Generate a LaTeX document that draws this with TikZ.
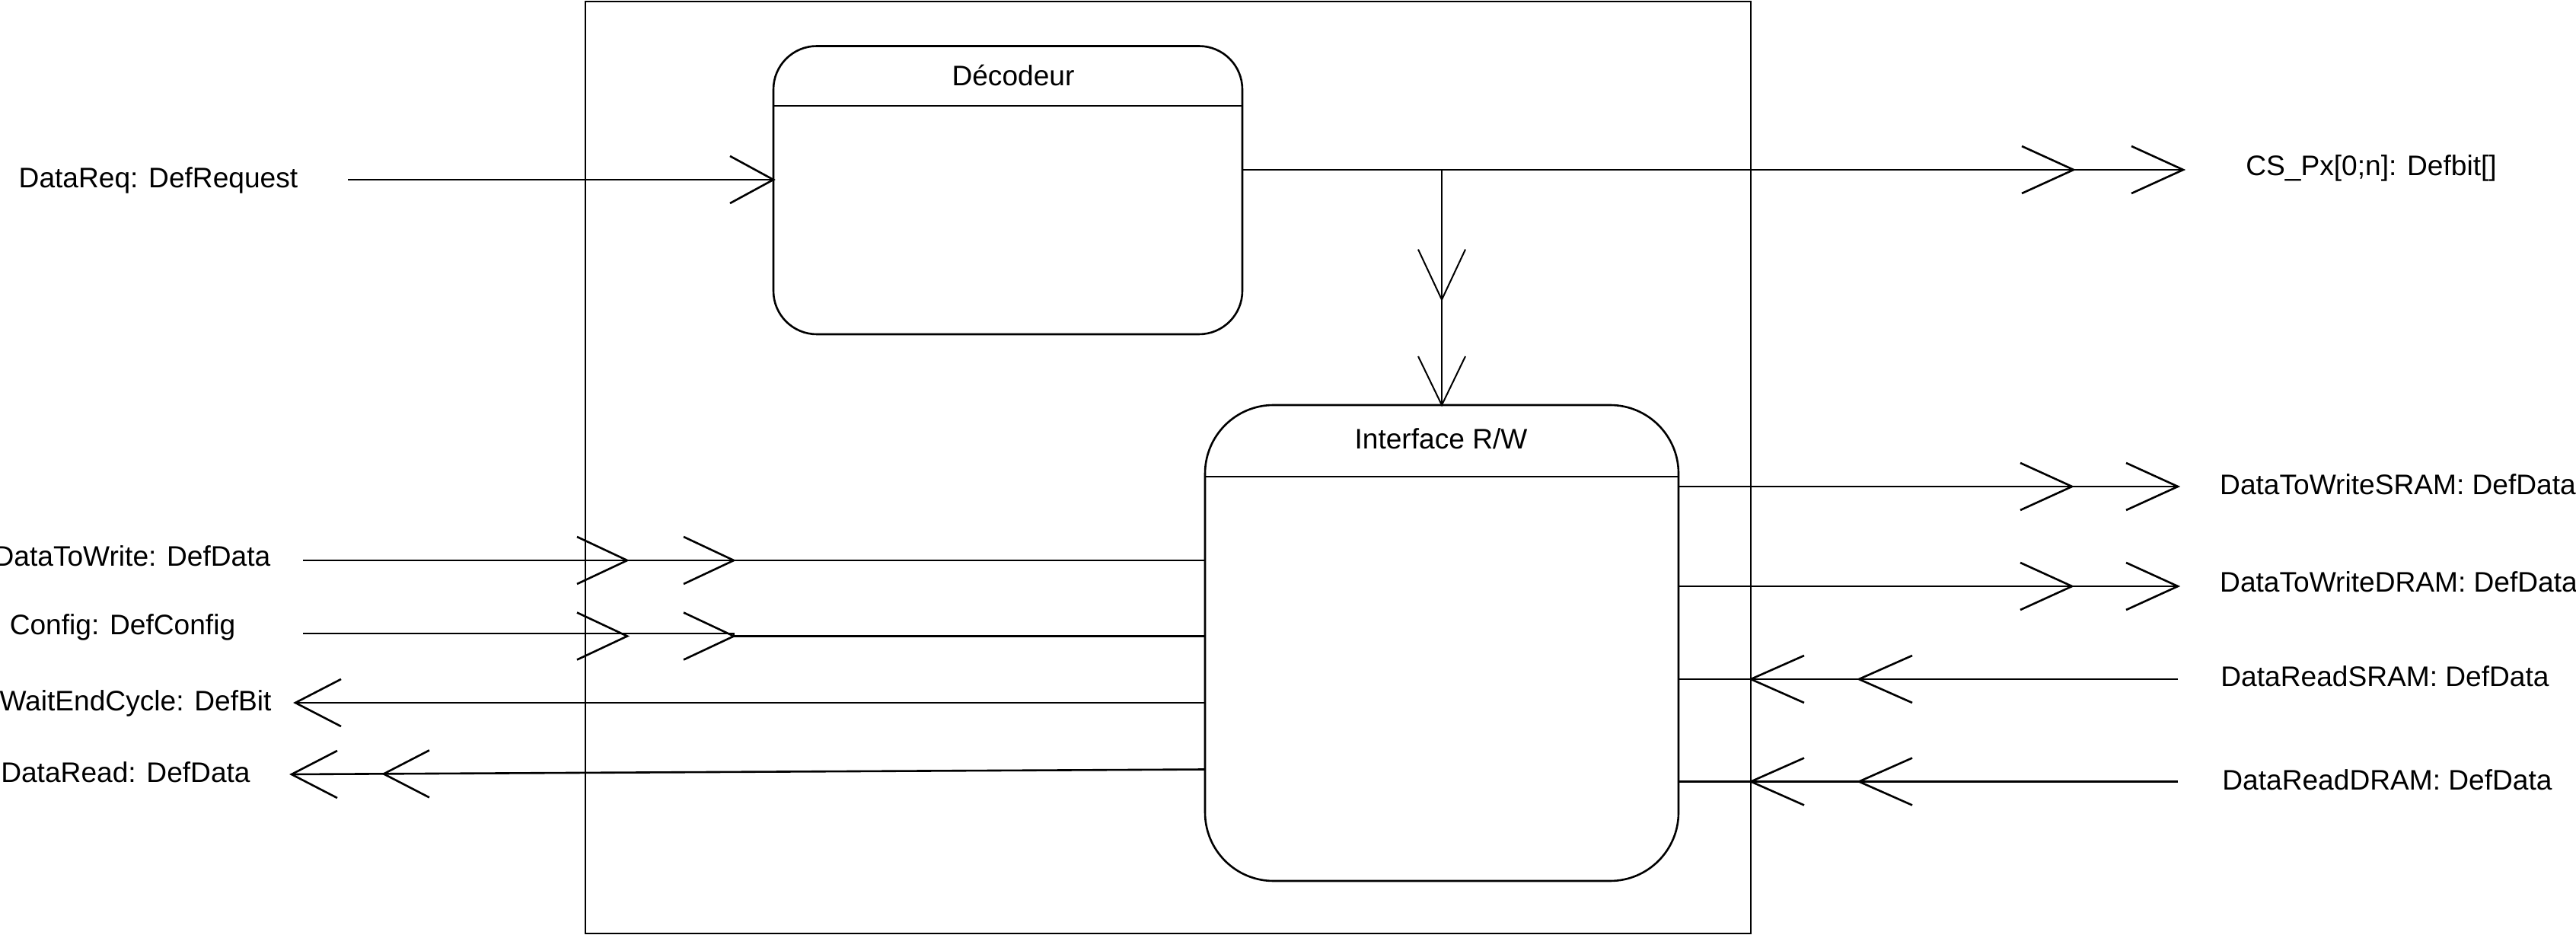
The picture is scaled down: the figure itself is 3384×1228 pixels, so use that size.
\documentclass[tikz,border=0pt]{standalone}
\usepackage{fontspec}
\setmainfont{Liberation Sans}
\usetikzlibrary{calc}
\tikzset{
  ln/.style={line width=0.65pt, black},
  branchln/.style={line width=0.5pt, black},
  blk/.style={draw, line width=0.65pt, rectangle, inner sep=0pt, outer sep=0pt},
  lbl/.style={font=\fontsize{9.28pt}{11pt}\selectfont, inner sep=0pt, anchor=base},
}
% open barbs: [style]{tip}{length}
\newcommand\barbR[3][ln]{\draw[#1] ($(#2)+(-#3,-31)$) -- (#2) -- ($(#2)+(-#3,31)$);}
\newcommand\barbL[3][ln]{\draw[#1] ($(#2)+(#3,-31)$) -- (#2) -- ($(#2)+(#3,31)$);}
\newcommand\barbD[3][ln]{\draw[#1] ($(#2)+(-31,-#3)$) -- (#2) -- ($(#2)+(31,-#3)$);}
\begin{document}
\begin{tikzpicture}[x=0.25pt,y=-0.25pt]
\useasboundingbox (0,0) rectangle (3384,1228);

% outer system box
\node[blk, minimum width=382.75pt, minimum height=306pt] (sys) at (1534.5,614) {};

% Decodeur
\node[blk, rounded corners=14.25pt, minimum width=154pt, minimum height=94.625pt] (dec) at (1324,249.75) {};
\coordinate (dech) at (0,139);
\draw[ln] (dec.west |- dech) -- (dec.east |- dech);
\node[lbl] (dectitle) at (1331,113) {Décodeur};

% Interface R/W
\node[blk, rounded corners=22.5pt, minimum width=155.5pt, minimum height=156.25pt] (ifc) at (1894,844.5) {};
\coordinate (ifch) at (0,626);
\draw[ln] (ifc.west |- ifch) -- (ifc.east |- ifch);
\node[lbl] (ifctitle) at (1893,590) {Interface R/W};

% DataReq input
\coordinate (reqin) at (457,236);
\coordinate (decin) at (reqin -| dec.west);
\draw[ln] (reqin) -- (decin);
\barbR{decin}{57}

% CS output
\coordinate (csend) at (2868,223);
\coordinate (cs1) at (2724,223);
\coordinate (decout) at (dec.east |- csend);
\draw[ln] (decout) -- (csend);
\barbR{cs1}{68}
\barbR{csend}{68}

% branch to Interface
\coordinate (br) at (ifc.north |- csend);
\coordinate (brmid) at ($(ifc.north)+(0,-138.4)$);
\draw[branchln] (br) -- (ifc.north);
\barbD[branchln]{brmid}{66}
\barbD[branchln]{ifc.north}{64}

% DataToWrite input
\coordinate (dtwin) at (398,736);
\coordinate (dtwa) at (824,736);
\coordinate (dtwb) at (964,736);
\draw[ln] (dtwin) -- (dtwin -| ifc.west);
\barbR{dtwa}{66}
\barbR{dtwb}{66}

% Config input
\coordinate (cfgin) at (398,832);
\coordinate (cfga) at (824,835.5);
\coordinate (cfgb) at (964,835.5);
\draw[ln] (cfgin) -- (cfgin -| cfgb) -- (cfgb) -- (cfgb -| ifc.west);
\barbR{cfga}{66}
\barbR{cfgb}{66}

% WaitEndCycle output
\coordinate (wec) at (388,923);
\draw[ln] (wec -| ifc.west) -- (wec);
\barbL{wec}{60}

% DataRead output
\coordinate (drout) at (383,1017);
\coordinate (drb) at (504,1016.4);
\coordinate (drph) at (0,1010.5);
\draw[ln] (ifc.west |- drph) -- (drout);
\barbL{drb}{60}
\barbL{drout}{60}

% DataToWriteSRAM / DRAM outputs
\coordinate (dtws) at (2861,639);
\coordinate (dtwsa) at (2722,639);
\draw[ln] (dtws -| ifc.east) -- (dtws);
\barbR{dtwsa}{68}
\barbR{dtws}{68}

\coordinate (dtwd) at (2861,770);
\coordinate (dtwda) at (2722,770);
\draw[ln] (dtwd -| ifc.east) -- (dtwd);
\barbR{dtwda}{68}
\barbR{dtwd}{68}

% DataReadSRAM / DRAM inputs
\coordinate (drs) at (2861,892);
\coordinate (drsa) at (2300,892);
\coordinate (drsb) at (2442,892);
\draw[ln] (drs) -- (drs -| ifc.east);
\barbL{drsa}{70}
\barbL{drsb}{70}

\coordinate (drd) at (2861,1026.5);
\coordinate (drda) at (2300,1026.5);
\coordinate (drdb) at (2442,1026.5);
\draw[ln] (drd) -- (drd -| ifc.east);
\barbL{drda}{70}
\barbL{drdb}{70}

% labels
\node[lbl] (l1) at (208,247) {DataReq: DefRequest};
\node[lbl] (l2) at (3115,231) {CS\_Px[0;n]: Defbit[]};
\node[lbl] (l3) at (173.5,743.4) {DataToWrite: DefData};
\node[lbl] (l4) at (161,834) {Config: DefConfig};
\node[lbl] (l5) at (178,933.6) {WaitEndCycle: DefBit};
\node[lbl] (l6) at (165,1027.7) {DataRead: DefData};
\node[lbl] (l7) at (3150,650) {DataToWriteSRAM: DefData};
\node[lbl] (l8) at (3151,778) {DataToWriteDRAM: DefData};
\node[lbl] (l9) at (3133,902) {DataReadSRAM: DefData};
\node[lbl] (l10) at (3136,1037) {DataReadDRAM: DefData};
\end{tikzpicture}
\end{document}
